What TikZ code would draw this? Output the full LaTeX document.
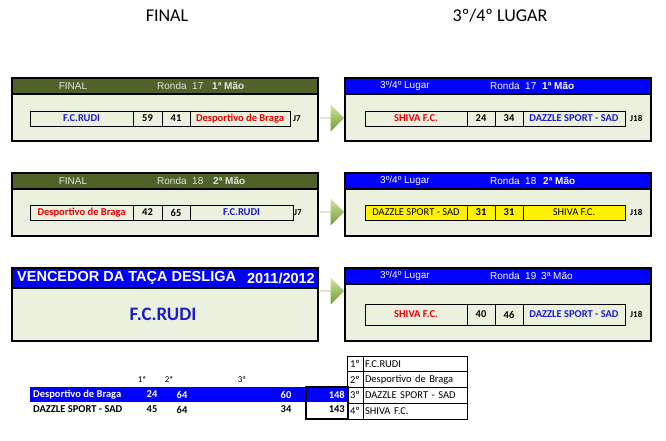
\documentclass[tikz,border=0pt]{standalone}
\usepackage{fontspec}
\setmainfont{Carlito}
\newfontfamily\arialfont{Liberation Sans}
\usetikzlibrary{positioning,shapes.arrows}
\definecolor{olivehd}{HTML}{4F6228}
\definecolor{panelbg}{HTML}{EBF1DE}
\definecolor{hdgray}{HTML}{E4E4E4}
\definecolor{teamblue}{HTML}{1C1CC8}
\definecolor{teamred}{HTML}{E80000}
\definecolor{arrowlt}{HTML}{D4E6A0}
\definecolor{arrowdk}{HTML}{6E9A30}
\tikzset{
  panel/.style={draw, line width=1.6pt, fill=panelbg, anchor=north west,
    minimum width=306pt, minimum height=#1, inner sep=0pt, outer sep=0pt},
  hdrbar/.style={draw, line width=1.6pt, fill=#1, anchor=north west,
    minimum width=306pt, minimum height=16pt, inner sep=0pt, outer sep=0pt},
  hdrtxt/.style={text=#1, inner sep=0pt, font=\arialfont\fontsize{10}{12}\selectfont},
  hdrbold/.style={hdrtxt=#1, font=\arialfont\bfseries\fontsize{10}{12}\selectfont},
  cell/.style={draw, line width=0.6pt, minimum height=15pt, inner sep=0pt, outer sep=0pt,
    font=\bfseries\fontsize{10.5}{12}\selectfont},
  cellreg/.style={cell, font=\fontsize{10.5}{12}\selectfont},
  jtag/.style={inner sep=0pt, font=\bfseries\fontsize{9}{11}\selectfont},
  garrow/.style={single arrow, anchor=tail, minimum height=24pt, minimum width=27pt,
    single arrow head extend=6pt, inner sep=0pt, top color=arrowlt, bottom color=arrowdk},
  bigtitle/.style={inner sep=0pt, font=\fontsize{18}{22}\selectfont},
  tbl/.style={inner sep=0pt, font=\bfseries\fontsize{10.5}{12}\selectfont},
  colhd/.style={inner sep=0pt, font=\fontsize{9}{11}\selectfont},
  rankno/.style={draw, line width=0.7pt, minimum width=16pt, minimum height=15.75pt,
    inner sep=0pt, outer sep=0pt, font=\fontsize{10.5}{12}\selectfont},
  rankname/.style={draw, line width=0.7pt, minimum height=15.75pt, text width=100pt,
    align=left, inner xsep=2pt, inner ysep=0pt, outer sep=0pt, font=\fontsize{10.5}{12}\selectfont}
}
\begin{document}
\begin{tikzpicture}[x=1pt, y=-1pt]
  \useasboundingbox (0,0) rectangle (666,441);
  % titles
  \node[bigtitle] (tfinal) at (167,16) {FINAL};
  \node[bigtitle] (tlugar) at (500,16) {3º/4º LUGAR};

  % ---------------------------------------------------------------- ronda 17
  \node[panel=63pt] (pf1) at (12,78) {};
  \node[hdrbar=olivehd] (hf1) at (12,78) {};
  \node[hdrtxt=hdgray] (hf1a) at (73,86) {FINAL};
  \node[hdrtxt=hdgray, anchor=west] (hf1b) at (157,86) {Ronda\ \ 17};
  \node[hdrbold=hdgray, anchor=west] (hf1c) at (212,86) {1ª Mão};
  \node[cell, minimum width=103pt, anchor=west, text=teamblue] (m1a) at (30,118.5) {F.C.RUDI};
  \node[cell, minimum width=29pt, right=0pt of m1a] (m1b) {59};
  \node[cell, minimum width=28pt, right=0pt of m1b] (m1c) {41};
  \node[cell, minimum width=100pt, right=0pt of m1c, text=teamred] (m1d) {Desportivo de Braga};
  \node[jtag, right=3pt of m1d] (m1j) {J7};

  \node[panel=63pt] (pl1) at (345,78) {};
  \node[hdrbar=blue] (hl1) at (345,78) {};
  \node[hdrtxt=white, anchor=west] (hl1a) at (380,86) {3º/4º Lugar};
  \node[hdrtxt=white, anchor=west] (hl1b) at (490,86) {Ronda\ \ 17};
  \node[hdrbold=white, anchor=west] (hl1c) at (542,86) {1ª Mão};
  \node[cell, minimum width=102pt, anchor=west, text=teamred] (n1a) at (365,118.5) {SHIVA F.C.};
  \node[cell, minimum width=28pt, right=0pt of n1a] (n1b) {24};
  \node[cell, minimum width=28pt, right=0pt of n1b] (n1c) {34};
  \node[cell, minimum width=102pt, right=0pt of n1c, text=teamblue] (n1d) {DAZZLE SPORT - SAD};
  \node[jtag, right=5pt of n1d] (n1j) {J18};

  \node[garrow] (ar1) at (320,118) {};

  % ---------------------------------------------------------------- ronda 18
  \node[panel=63pt] (pf2) at (12,173) {};
  \node[hdrbar=olivehd] (hf2) at (12,173) {};
  \node[hdrtxt=hdgray] (hf2a) at (73,181) {FINAL};
  \node[hdrtxt=hdgray, anchor=west] (hf2b) at (157,181) {Ronda\ \ 18};
  \node[hdrbold=hdgray, anchor=west] (hf2c) at (213,181) {2ª Mão};
  \node[cell, minimum width=103pt, anchor=west, text=teamred] (m2a) at (30,212.5) {Desportivo de Braga};
  \node[cell, minimum width=29pt, right=0pt of m2a] (m2b) {42};
  \node[cell, minimum width=28pt, right=0pt of m2b] (m2c) {65};
  \node[cell, minimum width=103pt, right=0pt of m2c, text=teamblue] (m2d) {F.C.RUDI};
  \node[jtag, right=1pt of m2d] (m2j) {J7};

  \node[panel=63pt] (pl2) at (345,173) {};
  \node[hdrbar=blue] (hl2) at (345,173) {};
  \node[hdrtxt=white, anchor=west] (hl2a) at (380,181) {3º/4º Lugar};
  \node[hdrtxt=white, anchor=west] (hl2b) at (490,181) {Ronda\ \ 18};
  \node[hdrbold=white, anchor=west] (hl2c) at (543,181) {2ª Mão};
  \node[cellreg, fill=yellow, minimum width=102pt, anchor=west] (n2a) at (365,212.5) {DAZZLE SPORT - SAD};
  \node[cell, fill=yellow, minimum width=28pt, right=0pt of n2a] (n2b) {31};
  \node[cell, fill=yellow, minimum width=28pt, right=0pt of n2b] (n2c) {31};
  \node[cellreg, fill=yellow, minimum width=102pt, right=0pt of n2c] (n2d) {SHIVA F.C.};
  \node[jtag, right=5pt of n2d] (n2j) {J18};

  \node[garrow] (ar2) at (320,212) {};

  % ---------------------------------------------------------------- vencedor / ronda 19
  \node[panel=73pt] (pv) at (12,268) {};
  \node[hdrbar=blue, minimum height=20pt] (hv) at (12,268) {};
  \node[anchor=west, text=white, inner sep=0pt, font=\arialfont\bfseries\fontsize{14.5}{16}\selectfont]
    (hva) at (17,278) {VENCEDOR DA TAÇA DESLIGA};
  \node[anchor=east, text=white, inner sep=0pt, font=\arialfont\bfseries\fontsize{14.5}{16}\selectfont]
    (hvb) at (315,278) {2011/2012};
  \node[text=teamblue, inner sep=0pt, font=\bfseries\fontsize{19}{22}\selectfont] (win) at (163,314) {F.C.RUDI};

  \node[panel=73pt] (pl3) at (345,268) {};
  \node[hdrbar=blue] (hl3) at (345,268) {};
  \node[hdrtxt=white, anchor=west] (hl3a) at (380,276) {3º/4º Lugar};
  \node[hdrtxt=white, anchor=west] (hl3b) at (490,276) {Ronda\ \ 19};
  \node[hdrtxt=white, anchor=west] (hl3c) at (541,276) {3ª Mão};
  \node[cell, minimum height=21pt, minimum width=102pt, anchor=west, text=teamred] (n3a) at (365,314.5) {SHIVA F.C.};
  \node[cell, minimum height=21pt, minimum width=28pt, right=0pt of n3a] (n3b) {40};
  \node[cell, minimum height=21pt, minimum width=28pt, right=0pt of n3b] (n3c) {46};
  \node[cell, minimum height=21pt, minimum width=102pt, right=0pt of n3c, text=teamblue] (n3d) {DAZZLE SPORT - SAD};
  \node[jtag, right=5pt of n3d] (n3j) {J18};

  \node[garrow] (ar3) at (320,291) {};

  % ---------------------------------------------------------------- totals
  \node[fill=blue, minimum width=317pt, minimum height=15pt, anchor=north west, inner sep=0pt] (band) at (30,387) {};
  \node[colhd] (c1) at (142,379) {1ª};
  \node[colhd] (c2) at (169,379) {2ª};
  \node[colhd] (c3) at (242,379) {3ª};
  \node[tbl, text=white, anchor=west] (s1) at (33,394.5) {Desportivo de Braga};
  \node[tbl, text=white] (s1a) at (152,394.5) {24};
  \node[tbl, text=white] (s1b) at (182,394.5) {64};
  \node[tbl, text=white] (s1c) at (286,394.5) {60};
  \node[tbl, text=white, anchor=east] (s1t) at (345,394.5) {148};
  \node[tbl, anchor=west] (s2) at (33,409.5) {DAZZLE SPORT - SAD};
  \node[tbl] (s2a) at (152,409.5) {45};
  \node[tbl] (s2b) at (182,409.5) {64};
  \node[tbl] (s2c) at (286,409.5) {34};
  \node[tbl, anchor=east] (s2t) at (345,409.5) {143};
  \node[draw, line width=2.4pt, minimum width=42pt, minimum height=32pt, anchor=north west, inner sep=0pt] (totbox) at (305,386) {};

  % classification
  \foreach \i/\rk/\nm in {1/1º/F.C.RUDI, 2/2º/Desportivo de Braga, 3/3º/DAZZLE SPORT - SAD, 4/4º/SHIVA F.C.} {
    \node[rankno, anchor=north west] (rk\i) at (347,{356+(\i-1)*15.75}) {\rk};
    \node[rankname, right=0pt of rk\i] (rn\i) {\nm};
  }
\end{tikzpicture}
\end{document}
